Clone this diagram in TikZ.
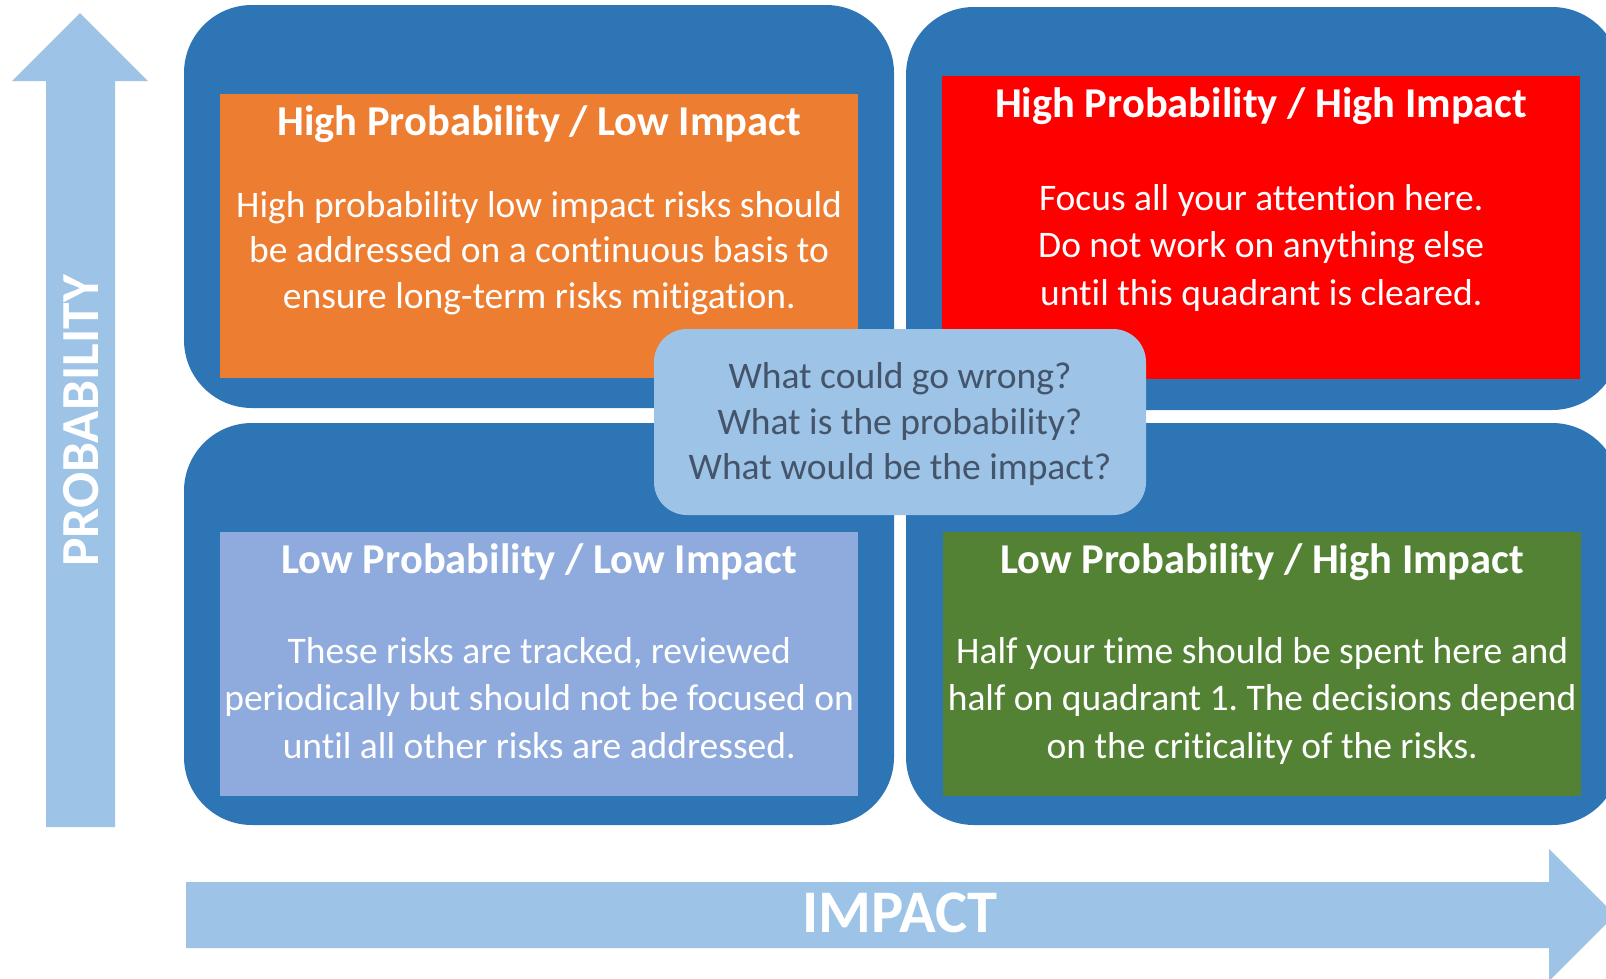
\documentclass[tikz,border=0pt]{standalone}
\usepackage{fontspec}
\setmainfont{Carlito}[Ligatures=NoCommon]
\usepackage{tikz}
\usetikzlibrary{positioning, calc}
\frenchspacing

\definecolor{frameblue}{HTML}{2E75B6}
\definecolor{axisblue}{HTML}{9DC3E6}
\definecolor{hlorange}{HTML}{ED7D31}
\definecolor{hhred}{HTML}{FF0000}
\definecolor{llblue}{HTML}{8FAADC}
\definecolor{lhgreen}{HTML}{548235}
\definecolor{asktext}{HTML}{44546A}

\begin{document}
\begin{tikzpicture}[x=1pt, y=-1pt,
    frame/.style={fill=frameblue, rounded corners=68pt},
    quadbox/.style={rectangle, inner sep=0pt, anchor=north west,
        minimum width=638pt},
    quadtitle/.style={text=white, inner sep=0pt, anchor=base,
        font=\fontsize{42.5}{50}\selectfont\bfseries},
    % base of a multi-line node is its last line
    quadtext/.style={text=white, inner sep=0pt, anchor=base, align=center,
        font=\fontsize{37.5}{47.5}\selectfont},
    axislabel/.style={text=white, inner sep=0pt,
        font=\fontsize{60.5}{64}\selectfont\bfseries}]

    % Page size
    \useasboundingbox (0,0) rectangle (1606,978);

    % Axis arrows
    \fill[axisblue] (46,827) -- (46,81) -- (12,81) -- (80,13) -- (148,81)
        -- (115,81) -- (115,827) -- cycle;
    \fill[axisblue] (186,882) -- (1549,882) -- (1549,849) -- (1615,915)
        -- (1549,981) -- (1549,948) -- (186,948) -- cycle;
    \node[axislabel, rotate=90, font=\fontsize{53.5}{56}\selectfont\bfseries]
        (problabel) at (81,421) {PROBABILITY};
    \node[axislabel] (implabel) at (900,913) {IMPACT};

    % Quadrant frames
    \fill[frame] (184,5) rectangle (894,408);
    \fill[frame] (906,7) rectangle (1620,410);
    \fill[frame] (184,423) rectangle (894,825);
    \fill[frame] (906,423) rectangle (1620,825);

    % Coloured boxes
    \node[quadbox, fill=hlorange, minimum height=284pt] (hl) at (220,94) {};
    \node[quadbox, fill=hhred, minimum height=303pt] (hh) at (942,76) {};
    \node[quadbox, fill=llblue, minimum height=264pt] (ll) at (220,532) {};
    \node[quadbox, fill=lhgreen, minimum height=264pt] (lh) at (943,532) {};

    % High probability / low impact
    \node[quadtitle] (hltitle) at ($(hl.north)+(0,41)$)
        {High Probability / Low Impact};
    \node[quadtext, font=\fontsize{37.5}{45.5}\selectfont] (hltext)
        at ($(hl.north)+(0,214)$)
        {High probability low impact risks should\\
         be addressed on a continuous basis to\\
         ensure long-term risks mitigation.};

    % High probability / high impact
    \node[quadtitle] (hhtitle) at ($(hh.north)+(0,41)$)
        {High Probability / High Impact};
    \node[quadtext] (hhtext) at ($(hh.north)+(0,229)$)
        {Focus all your attention here.\\
         Do not work on anything else\\
         until this quadrant is cleared.};

    % Low probability / low impact
    \node[quadtitle] (lltitle) at ($(ll.north)+(0,41)$)
        {Low Probability / Low Impact};
    \node[quadtext] (lltext) at ($(ll.north)+(0,226)$)
        {These risks are tracked, reviewed\\
         periodically but should not be focused on\\
         until all other risks are addressed.};

    % Low probability / high impact
    \node[quadtitle] (lhtitle) at ($(lh.north)+(0,41)$)
        {Low Probability / High Impact};
    \node[quadtext] (lhtext) at ($(lh.north)+(0,226)$)
        {Half your time should be spent here and\\
         half on quadrant 1. The decisions depend\\
         on the criticality of the risks.};

    % Questions in the middle
    \node[fill=axisblue, rounded corners=33pt, inner sep=0pt,
        minimum width=492pt, minimum height=186pt] (ask) at (900,422) {};
    \node[quadtext, text=asktext, font=\fontsize{37.5}{45.5}\selectfont]
        (asktext) at ($(ask.north)+(0,151)$)
        {What could go wrong?\\
         What is the probability?\\
         What would be the impact?};
\end{tikzpicture}
\end{document}
